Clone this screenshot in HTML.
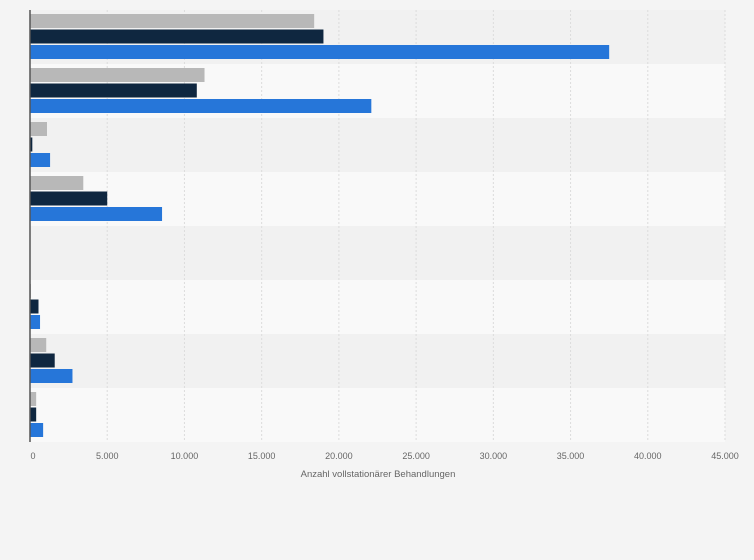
<!DOCTYPE html>
<html><head><meta charset="utf-8"><style>
body{margin:0;background:#f4f4f4;font-family:"Liberation Sans",sans-serif}
svg{display:block}
</style></head><body>
<svg id="c" width="754" height="560"></svg>
<script>
const categories=["c1","c2","c3","c4","c5","c6","c7","c8"];
const seriesGray=[18400,11300,1100,3450,0,60,1050,400];
const seriesNavy=[19000,10800,150,5000,0,550,1600,400];
const seriesBlue=[37500,22100,1300,8550,0,650,2750,850];
const ticks=[0,5000,10000,15000,20000,25000,30000,35000,40000,45000];
const tickLabels=["0","5.000","10.000","15.000","20.000","25.000","30.000","35.000","40.000","45.000"];
const NS="http://www.w3.org/2000/svg",svgEl=document.getElementById('c');
const x0=30,x1=725,plotTop=10,band=54;
const xs=v=>x0+v/45000*(x1-x0);
function mk(t,a){const e=document.createElementNS(NS,t);for(const k in a)e.setAttribute(k,a[k]);svgEl.appendChild(e);return e;}
categories.forEach((c,i)=>{
 const r=mk('rect',{x:x0,y:plotTop+i*band,width:x1-x0,height:band,fill:i%2?'#f9f9f9':'#f1f1f1'});
 
 
});
ticks.forEach((t,i)=>{
 if(i>0){const g=mk('line',{x1:xs(t),x2:xs(t),y1:plotTop,y2:plotTop+band*categories.length,stroke:'#dcdcdc','stroke-dasharray':'2,2'});
 
 }
 const l=mk('text',{x:xs(t)+(i==0?3:0),y:459,'text-anchor':'middle','font-size':'9',fill:'#666'});
 l.textContent=tickLabels[i];
 
 
});
const series=[[seriesGray,'#b8b8b8'],[seriesNavy,'#0f2740'],[seriesBlue,'#2676d9']];
categories.forEach((c,i)=>{
 series.forEach(([s,col],j)=>{
  const b=mk('rect',{x:x0,y:plotTop+i*band+4+j*15.5,width:Math.max(0,xs(s[i])-x0),height:14,fill:col});
  
  
 });
});
const ax=mk('line',{x1:x0,x2:x0,y1:plotTop,y2:plotTop+band*categories.length,stroke:'#555','stroke-width':1.5});


const tt=mk('text',{x:378,y:477,'text-anchor':'middle','font-size':'9.5',fill:'#666'});
tt.textContent='Anzahl vollstationärer Behandlungen';


</script>
</body></html>
